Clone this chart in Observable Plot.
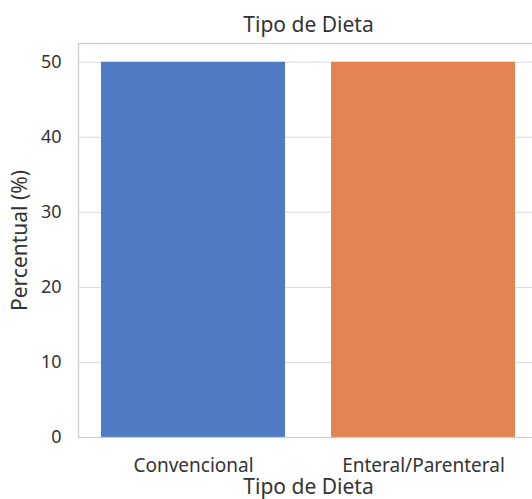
<!DOCTYPE html>
<html>
<head>
<meta charset="utf-8">
<script src="https://cdn.jsdelivr.net/npm/d3@7"></script>
<script src="https://cdn.jsdelivr.net/npm/@observablehq/plot@0.6"></script>
<style>
  html, body { margin: 0; padding: 0; background: #fff; overflow: hidden; }
  svg { display: block; max-width: none !important; }
</style>
</head>
<body>
<div id="chart"></div>
<script>
const categories = ["Convencional", "Enteral/Parenteral"];
const percentages = [50, 50];
const colors = ["#4f7bc3", "#e38452"];
const yTicks = [0, 10, 20, 30, 40, 50];
const title = "Tipo de Dieta";
const xLabel = "Tipo de Dieta";
const yLabel = "Percentual (%)";

const data = categories.map((c, i) => ({category: c, value: percentages[i]}));
const font = "Noto Sans";

const chart = Plot.plot({
  width: 540,
  height: 499,
  marginLeft: 78,
  marginRight: 2,
  marginTop: 43,
  marginBottom: 62,
  style: {fontFamily: font, fontSize: "19px", color: "#333", background: "#fff", maxWidth: "none"},
  x: {domain: categories, paddingInner: 0.2, paddingOuter: 0.1, label: null},
  y: {domain: [0, 52.5], label: null},
  color: {domain: categories, range: colors},
  marks: [
    Plot.gridY(yTicks, {stroke: "#cccccc", strokeOpacity: 0.7, strokeWidth: 1}),
    Plot.barY(data, {x: "category", y: "value", fill: "category"}),
    Plot.frame({stroke: "#cccccc", strokeWidth: 1.25}),
    Plot.axisY(yTicks, {tickSize: 0, tickPadding: 17, fontSize: 18, fill: "#333", label: null}),
    Plot.axisX({tickSize: 0, tickPadding: 21, fontSize: 19, fill: "#333", label: null}),
    Plot.text([xLabel], {frameAnchor: "bottom", dy: 56, lineAnchor: "bottom", fontSize: 21, fill: "#333"}),
    Plot.text([yLabel], {frameAnchor: "left", dx: -58, rotate: -90, textAnchor: "middle", fontSize: 21, fill: "#333"}),
    Plot.text([title], {frameAnchor: "top", dy: -12, lineAnchor: "bottom", fontSize: 21, fill: "#333"})
  ]
});
document.getElementById("chart").appendChild(chart);
</script>
</body>
</html>
